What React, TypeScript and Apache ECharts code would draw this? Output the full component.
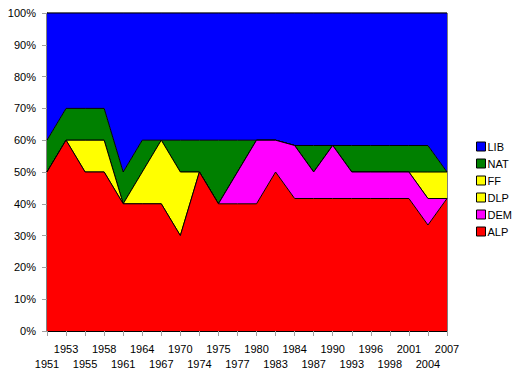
import React, { useEffect, useRef } from "react";
import * as echarts from "echarts";

const categories = [
  "1951", "1953", "1955", "1958", "1961", "1964", "1967", "1970", "1974", "1975", "1977",
  "1980", "1983", "1984", "1987", "1990", "1993", "1996", "1998", "2001", "2004", "2007",
];

const ALP = [50, 60, 50, 50, 40, 40, 40, 30, 50, 40, 40, 40, 50, 41.67, 41.67, 41.67, 41.67, 41.67, 41.67, 41.67, 33.33, 41.67];
const DEM = [0, 0, 0, 0, 0, 0, 0, 0, 0, 0, 10, 20, 10, 16.67, 8.33, 16.67, 8.33, 8.33, 8.33, 8.33, 8.33, 0];
const DLP = [0, 0, 10, 10, 0, 10, 20, 20, 0, 0, 0, 0, 0, 0, 0, 0, 0, 0, 0, 0, 0, 0];
const FF = [0, 0, 0, 0, 0, 0, 0, 0, 0, 0, 0, 0, 0, 0, 0, 0, 0, 0, 0, 0, 8.33, 8.33];
const NAT = [10, 10, 10, 10, 10, 10, 0, 10, 10, 20, 10, 0, 0, 0, 8.33, 0, 8.33, 8.33, 8.33, 8.33, 8.33, 0];
const LIB = [40, 30, 30, 30, 50, 40, 40, 40, 40, 40, 40, 40, 40, 41.67, 41.67, 41.67, 41.67, 41.67, 41.67, 41.67, 41.67, 50];

const seriesDefs = [
  { name: "ALP", data: ALP, color: "#FF0000" },
  { name: "DEM", data: DEM, color: "#FF00FF" },
  { name: "DLP", data: DLP, color: "#FFFF00" },
  { name: "FF", data: FF, color: "#FFFF00" },
  { name: "NAT", data: NAT, color: "#008000" },
  { name: "LIB", data: LIB, color: "#0000FF" },
];

const legendOrder = ["LIB", "NAT", "FF", "DLP", "DEM", "ALP"];
const yTicks = { min: 0, max: 100, interval: 10 };

const FONT = "'Liberation Sans', Arial, sans-serif";

export default function App() {
  const ref = useRef<HTMLDivElement>(null);

  useEffect(() => {
    if (!ref.current) return;
    const chart = echarts.init(ref.current, undefined, { renderer: "svg" });
    const n = seriesDefs.length;
    chart.setOption({
      animation: false,
      textStyle: { fontFamily: FONT },
      grid: {
        left: 47,
        right: 79,
        top: 13,
        bottom: 52,
        show: true,
        borderColor: "#000",
        borderWidth: 1,
        backgroundColor: "transparent",
      },
      legend: {
        orient: "vertical",
        left: 476,
        top: 141,
        padding: 0,
        itemWidth: 9,
        itemHeight: 9,
        itemGap: 6,
        icon: "rect",
        data: legendOrder,
        itemStyle: { borderColor: "#000", borderWidth: 1 },
        textStyle: { fontFamily: FONT, fontSize: 11, lineHeight: 11, color: "#000", padding: [0, 0, 0, -3] },
      },
      xAxis: {
        type: "category",
        data: categories,
        boundaryGap: false,
        axisLine: { show: true, lineStyle: { color: "#000", width: 1 } },
        axisTick: { show: true, interval: 0, length: 5, lineStyle: { color: "#a0a0a0" } },
        axisLabel: {
          interval: 0,
          margin: 10,
          fontSize: 11,
          lineHeight: 15,
          color: "#000",
          fontFamily: FONT,
          formatter: (v: string, i: number) => (i % 2 === 0 ? "\n" + v : v),
        },
        splitLine: { show: false },
      },
      yAxis: {
        type: "value",
        min: yTicks.min,
        max: yTicks.max,
        interval: yTicks.interval,
        axisLine: { show: true, lineStyle: { color: "#000", width: 1 } },
        axisTick: { show: true, length: 5, lineStyle: { color: "#a0a0a0" } },
        axisLabel: { formatter: "{value}%", fontSize: 11, margin: 11, color: "#000", fontFamily: FONT },
        splitLine: { show: false },
      },
      series: seriesDefs.map((s, i) => ({
        name: s.name,
        type: "line",
        stack: "total",
        data: s.data,
        z: 2 + (n - i),
        symbol: "none",
        showSymbol: false,
        color: s.color,
        itemStyle: { color: s.color },
        lineStyle: { color: "#000", width: 1 },
        areaStyle: { color: s.color, opacity: 1 },
        emphasis: { disabled: true },
      })),
    });
    return () => chart.dispose();
  }, []);

  return (
    <div
      ref={ref}
      style={{ position: "absolute", left: 0, top: 0, width: 526, height: 383 }}
    />
  );
}
